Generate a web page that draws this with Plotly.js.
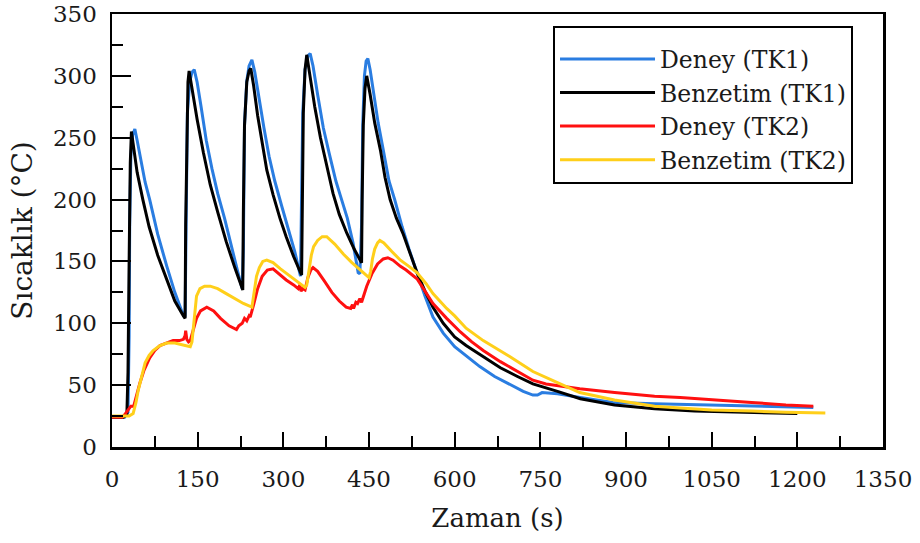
<!DOCTYPE html>
<html>
<head>
<meta charset="utf-8">
<script src="https://cdn.plot.ly/plotly-3.0.1.min.js"></script>
<style>html,body{margin:0;padding:0;background:#fff;}#chart{width:920px;height:543px;}</style>
</head>
<body>
<div id="chart"></div>
<script>
// Deney (TK1) - measured, blue
var deneyTK1_t = [0,22,28,30,31,33,36,40,44,50,58,66,80,96,110,122,127,
  128,130,132,136,140,144,149,156,165,175,185,197,210,220,228,
  230,232,236,240,245,250,258,266,275,285,297,310,320,330,
  332,334,338,343,347,352,360,370,380,392,400,412,422,428,431,434,
  437,439,442,445,448,452,458,466,475,485,495,508,520,534,548,562,580,600,621,644,670,700,720,737,745,753,780,820,877,950,1050,1150,1228];
var deneyTK1_T = [24,24,28,90,180,235,252,257,248,232,214,200,172,146,125,110,105,
  106,200,270,295,303,305,295,275,248,225,205,185,160,142,128,
  160,260,296,308,313,303,280,258,235,215,195,175,158,138,
  200,270,305,316,318,308,285,258,238,215,203,185,165,148,141,140,
  180,260,300,312,314,305,285,262,240,215,200,178,160,141,122,105,92,81,73,65,57,50,45,42,42,44,43,40,36,35,34,33,32];

// Benzetim (TK1) - simulation, black
var benzTK1_t = [0,20,26,28,30,32,34,38,44,54,65,80,96,110,125,128,
  129,131,133,135,140,149,160,172,185,200,215,229,
  230,232,236,240,243,248,255,263,271,282,294,305,318,332,
  333,335,338,341,346,355,365,374,382,387,398,411,424,437,
  438,440,443,446,452,460,470,478,487,498,510,522,534,548,562,580,600,620,644,680,710,737,780,820,880,950,1020,1100,1200];
var benzTK1_T = [24,24,26,60,150,230,255,240,222,200,178,155,135,118,106,104,
  180,260,295,304,290,265,238,212,190,166,145,127,
  190,260,295,304,306,292,268,245,224,204,185,170,154,139,
  200,270,305,317,302,275,250,232,216,205,188,173,160,149,
  200,260,290,300,285,262,240,218,200,185,172,156,141,126,113,100,89,82,75,64,57,51,45,39,34,31,29,28,27];

// Deney (TK2) - measured, red
var deneyTK2_t = [0,18,22,28,33,38,42,49,56,66,75,84,95,107,118,125,128,129,131,134,137,142,148,155,166,178,190,205,218,
  222,228,232,236,240,242,248,255,263,272,282,292,305,318,326,329,331,334,338,343,348,352,360,372,385,398,410,418,
  421,423,427,430,434,437,440,446,455,465,475,483,492,505,515,527,534,548,562,586,610,630,650,680,710,737,760,790,819,880,950,995,1050,1120,1180,1228];
var deneyTK2_T = [24,24,26,30,33,33,40,52,62,72,78,82,84,86,86,87,90,94,87,85,86,95,104,110,113,110,104,98,95,
  98,100,104,102,106,105,115,128,138,143,144,140,135,131,128,131,126,128,127,137,143,145,142,134,125,118,113,112,
  115,112,117,116,120,117,121,130,140,148,152,153,151,146,143,139,136,126,116,104,93,85,78,69,61,54,51,49,47,44,41,40,38,36,34,33];

// Benzetim (TK2) - simulation, yellow
var benzTK2_t = [0,30,37,42,46,52,58,65,72,84,96,110,125,137,140,144,148,154,162,172,185,200,215,230,245,
  249,253,258,264,271,282,295,310,325,338,341,345,349,353,360,368,376,390,405,420,435,450,
  453,456,460,465,469,476,490,505,520,534,550,562,586,600,620,650,697,737,780,819,880,950,995,1050,1120,1180,1249];
var benzTK2_T = [25,25,27,36,46,58,68,74,78,82,84,84,82,81,85,105,122,128,130,130,128,124,120,116,113,
  125,138,145,150,151,149,144,139,134,129,131,142,155,162,167,170,170,164,156,149,143,137,
  142,152,160,165,167,165,158,151,146,141,132,124,112,106,96,86,73,61,52,44,38,33,31.5,30,29,28,27.5];

var seriesNames = ['Deney (TK1)','Benzetim (TK1)','Deney (TK2)','Benzetim (TK2)'];
var seriesColors = ['#2a7de1','#000000','#ff1010','#ffcf1a'];
var xs = [deneyTK1_t, benzTK1_t, deneyTK2_t, benzTK2_t];
var ys = [deneyTK1_T, benzTK1_T, deneyTK2_T, benzTK2_T];

var xTicks = [0,150,300,450,600,750,900,1050,1200,1350];
var yTicks = [0,50,100,150,200,250,300,350];

var traces = seriesNames.map(function(n,i){
  return {x: xs[i], y: ys[i], type:'scatter', mode:'lines', name:n,
    line:{color:seriesColors[i], width:3}};
});

var tickFont = {family:'DejaVu Serif', size:23, color:'#1a1a1a'};
var layout = {
  width:920, height:543,
  margin:{l:112, r:37, t:14, b:96},
  paper_bgcolor:'#fff', plot_bgcolor:'#fff',
  showlegend:true,
  xaxis:{range:[0,1350], tickvals:xTicks, ticktext:xTicks.map(String),
    showgrid:false, zeroline:false, showline:true, mirror:true, linecolor:'#000', linewidth:2.5,
    ticks:'inside', ticklen:15, tickwidth:2, tickcolor:'#000',
    minor:{dtick:75, tick0:0, ticks:'inside', ticklen:11, tickwidth:2, tickcolor:'#000'},
    tickfont:tickFont, ticklabelstandoff:10,
    title:{text:'Zaman (s)', font:{family:'DejaVu Serif', size:26, color:'#1a1a1a'}, standoff:18}},
  yaxis:{range:[0,350], tickvals:yTicks, ticktext:yTicks.map(String),
    showgrid:false, zeroline:false, showline:true, mirror:true, linecolor:'#000', linewidth:2.5,
    ticks:'inside', ticklen:19, tickwidth:2, tickcolor:'#000',
    minor:{dtick:25, tick0:0, ticks:'inside', ticklen:11, tickwidth:2, tickcolor:'#000'},
    tickfont:tickFont, ticklabelstandoff:8,
    title:{text:'Sıcaklık (°C)', font:{family:'DejaVu Serif', size:28, color:'#1a1a1a'}, standoff:12}},
  legend:{x:0.572, y:0.972, xanchor:'left', yanchor:'top', bgcolor:'#fff',
    bordercolor:'#000', borderwidth:2, itemwidth:95,
    title:{text:'&nbsp;', font:{family:'DejaVu Serif', size:7}},
    font:{family:'DejaVu Serif', size:23.5, color:'#1a1a1a'}}
};

Plotly.newPlot('chart', traces, layout, {displayModeBar:false, staticPlot:true});
</script>
</body>
</html>
